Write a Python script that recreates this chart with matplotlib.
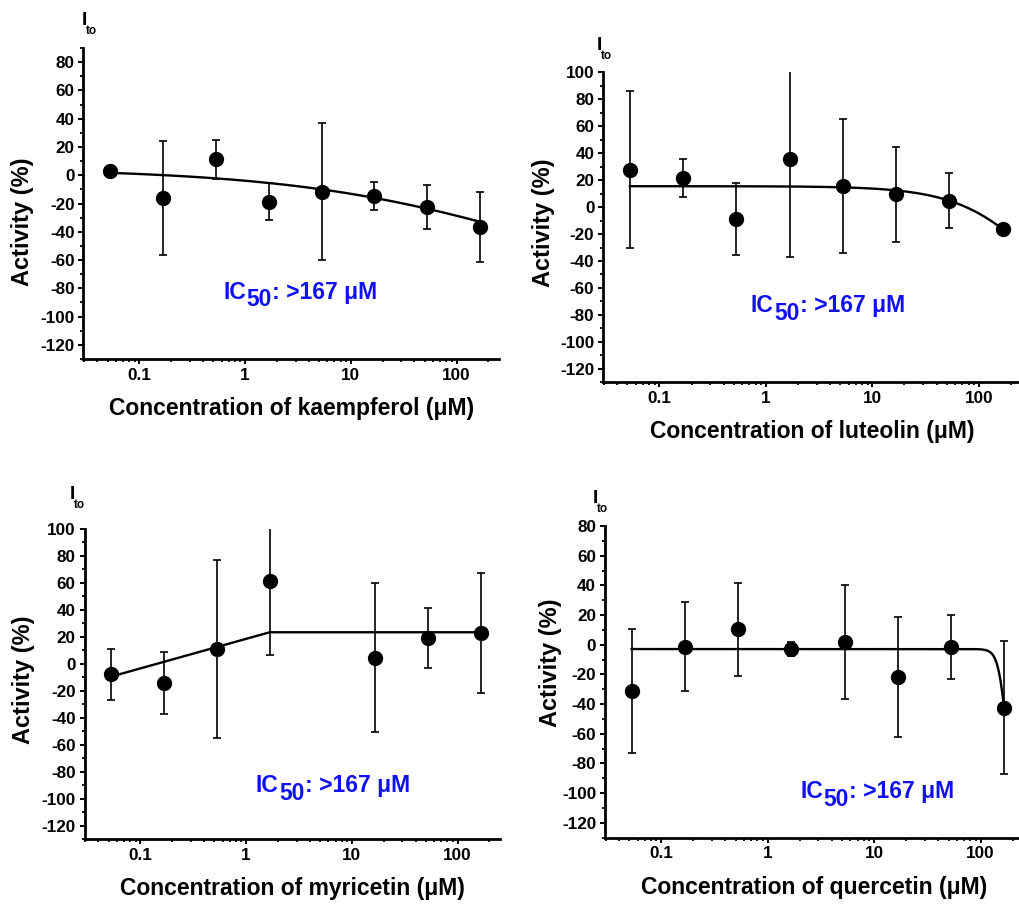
import numpy as np
import matplotlib
matplotlib.use("Agg")
import matplotlib.pyplot as plt
from matplotlib.ticker import MultipleLocator, LogLocator, FuncFormatter, NullFormatter

plt.rcParams["font.family"] = ["Liberation Sans", "DejaVu Sans"]
plt.rcParams["font.weight"] = "bold"
plt.rcParams["axes.unicode_minus"] = False

# ---------------- data ----------------
conc = [0.0528, 0.167, 0.528, 1.67, 5.28, 16.7, 52.8, 167]

kaempferol_act = [3.3, -16.3, 11.2, -18.7, -11.6, -14.8, -22.4, -36.7]
kaempferol_err = [2.0, 40.2, 13.8, 13.0, 48.5, 10.1, 15.3, 24.5]

luteolin_act = [27.8, 21.5, -8.9, 35.6, 15.8, 9.4, 4.7, -16.3]
luteolin_err = [58.4, 14.0, 26.5, 72.6, 49.7, 35.0, 20.3, 2.0]

myricetin_conc = [0.0528, 0.167, 0.528, 1.67, 16.7, 52.8, 167]
myricetin_act = [-7.8, -14.5, 10.9, 61.4, 4.5, 19.2, 22.8]
myricetin_err = [18.8, 23.0, 65.9, 54.9, 55.2, 22.5, 44.2]

quercetin_act = [-31.0, -1.2, 10.4, -2.7, 2.1, -21.7, -1.7, -42.6]
quercetin_err = [41.8, 29.8, 31.3, 4.6, 38.4, 40.5, 21.5, 44.8]

# fitted dose-response parameters: top, bottom, IC50, Hill slope
kaempferol_fit = (5.0, -100.0, 835.0, 0.354)
luteolin_fit = (15.5, -100.0, 392.0, 1.134)
quercetin_fit = (-2.9, -100.0, 172.0, 11.4)
# myricetin fit drawn through its knots
myricetin_fit_conc = [0.0528, 1.67, 167]
myricetin_fit_act = [-9.5, 23.4, 23.4]

compounds = ["kaempferol", "luteolin", "myricetin", "quercetin"]
ic50_text = ">167 \u03bcM"

# ---------------- layout ----------------
W, H = 1020, 906
fig = plt.figure(figsize=(W / 100, H / 100), dpi=100)


def px_rect(left, right, top, bottom):
    return [left / W, 1 - bottom / H, (right - left) / W, (bottom - top) / H]


def px_pt(x, y):
    return x / W, 1 - y / H


BLUE = "#1010f0"


def hill(x, top, bottom, ic50, n):
    return bottom + (top - bottom) / (1 + (x / ic50) ** n)


def style_axes(ax, ytop):
    ax.set_xscale("log")
    ax.set_xlim(0.0296, 252)
    ax.set_ylim(-130, ytop)
    for s in ("top", "right"):
        ax.spines[s].set_visible(False)
    for s in ("left", "bottom"):
        ax.spines[s].set_linewidth(2.0)
    ax.yaxis.set_major_locator(MultipleLocator(20))
    ax.yaxis.set_minor_locator(MultipleLocator(10))
    ax.xaxis.set_major_locator(LogLocator(base=10))
    ax.xaxis.set_minor_locator(LogLocator(base=10, subs=np.arange(2, 10)))
    ax.xaxis.set_major_formatter(FuncFormatter(lambda v, p: f"{v:g}"))
    ax.xaxis.set_minor_formatter(NullFormatter())
    ax.tick_params(which="major", length=3.8, width=1.4, labelsize=12.3, pad=2.5)
    ax.tick_params(which="minor", length=2.3, width=1.3)
    for lab in ax.get_xticklabels() + ax.get_yticklabels():
        lab.set_fontweight("bold")


def ic50_label(ax, x, y):
    kw = dict(color=BLUE, fontsize=16.5, fontweight="bold")
    t1 = ax.text(x, y, "IC", va="baseline", ha="left", **kw)
    t2 = ax.annotate("50", xy=(1, 0), xycoords=t1, xytext=(0.3, -5.5),
                     textcoords="offset points", va="bottom", ha="left", **kw)
    ax.annotate(": " + ic50_text, xy=(1, 0), xycoords=(t2, t1), xytext=(0.3, 0),
                textcoords="offset points", va="bottom", ha="left", **kw)


def ito_label(x, y_base):
    fig.text(*px_pt(x, y_base), "I", fontsize=14, fontweight="bold", va="baseline", ha="left")
    fig.text(*px_pt(x + 3.5, y_base + 9), "to", fontsize=8.5, fontweight="bold",
             va="baseline", ha="left")


panels = [
    # rect (left, right, top, bottom), ytop, ylabel y-frac, ylabel x-offset px, IC50 pos, I_to pos
    (px_rect(83.5, 499.0, 48, 359), 90, 0.44, -60.5, (0.62, -87.3), (82, 25)),
    (px_rect(603.2, 1021.6, 72.3, 382.3), 100, 0.515, -60, (0.72, -78.0), (597, 50)),
    (px_rect(84.6, 500.0, 529, 839), 100, 0.513, -61.5, (1.23, -95.3), (70, 499)),
    (px_rect(604.9, 1023.3, 526, 837.7), 80, 0.5625, -54, (2.02, -103.2), (593, 503)),
]

series = [
    (conc, kaempferol_act, kaempferol_err),
    (conc, luteolin_act, luteolin_err),
    (myricetin_conc, myricetin_act, myricetin_err),
    (conc, quercetin_act, quercetin_err),
]
fits = [kaempferol_fit, luteolin_fit, None, quercetin_fit]

for i, (rect, ytop, ylab_y, ylab_dx, ic_pos, ito_pos) in enumerate(panels):
    ax = fig.add_axes(rect)
    style_axes(ax, ytop)
    x, y, e = series[i]

    if fits[i] is None:
        ax.plot(myricetin_fit_conc, myricetin_fit_act, color="black", lw=1.7, zorder=2)
    else:
        xf = np.logspace(np.log10(x[0]), np.log10(x[-1]), 400)
        ax.plot(xf, hill(xf, *fits[i]), color="black", lw=1.7, zorder=2)

    ax.errorbar(x, y, yerr=e, fmt="o", color="black", ms=10, capsize=3,
                elinewidth=1.2, capthick=1.2, zorder=3)

    ax.set_xlabel(f"Concentration of {compounds[i]} (\u03bcM)", fontsize=16.5, fontweight="bold")
    ax.set_ylabel("Activity (%)", fontsize=17, fontweight="bold")
    h_px = rect[3] * H
    w_px = rect[2] * W
    ax.xaxis.label.set_va("center")
    ax.xaxis.set_label_coords(0.5, -49.5 / h_px)
    ax.yaxis.label.set_va("center")
    ax.yaxis.set_label_coords(ylab_dx / w_px, ylab_y)

    ic50_label(ax, *ic_pos)
    ito_label(*ito_pos)

fig.savefig("out.png", dpi=100)
